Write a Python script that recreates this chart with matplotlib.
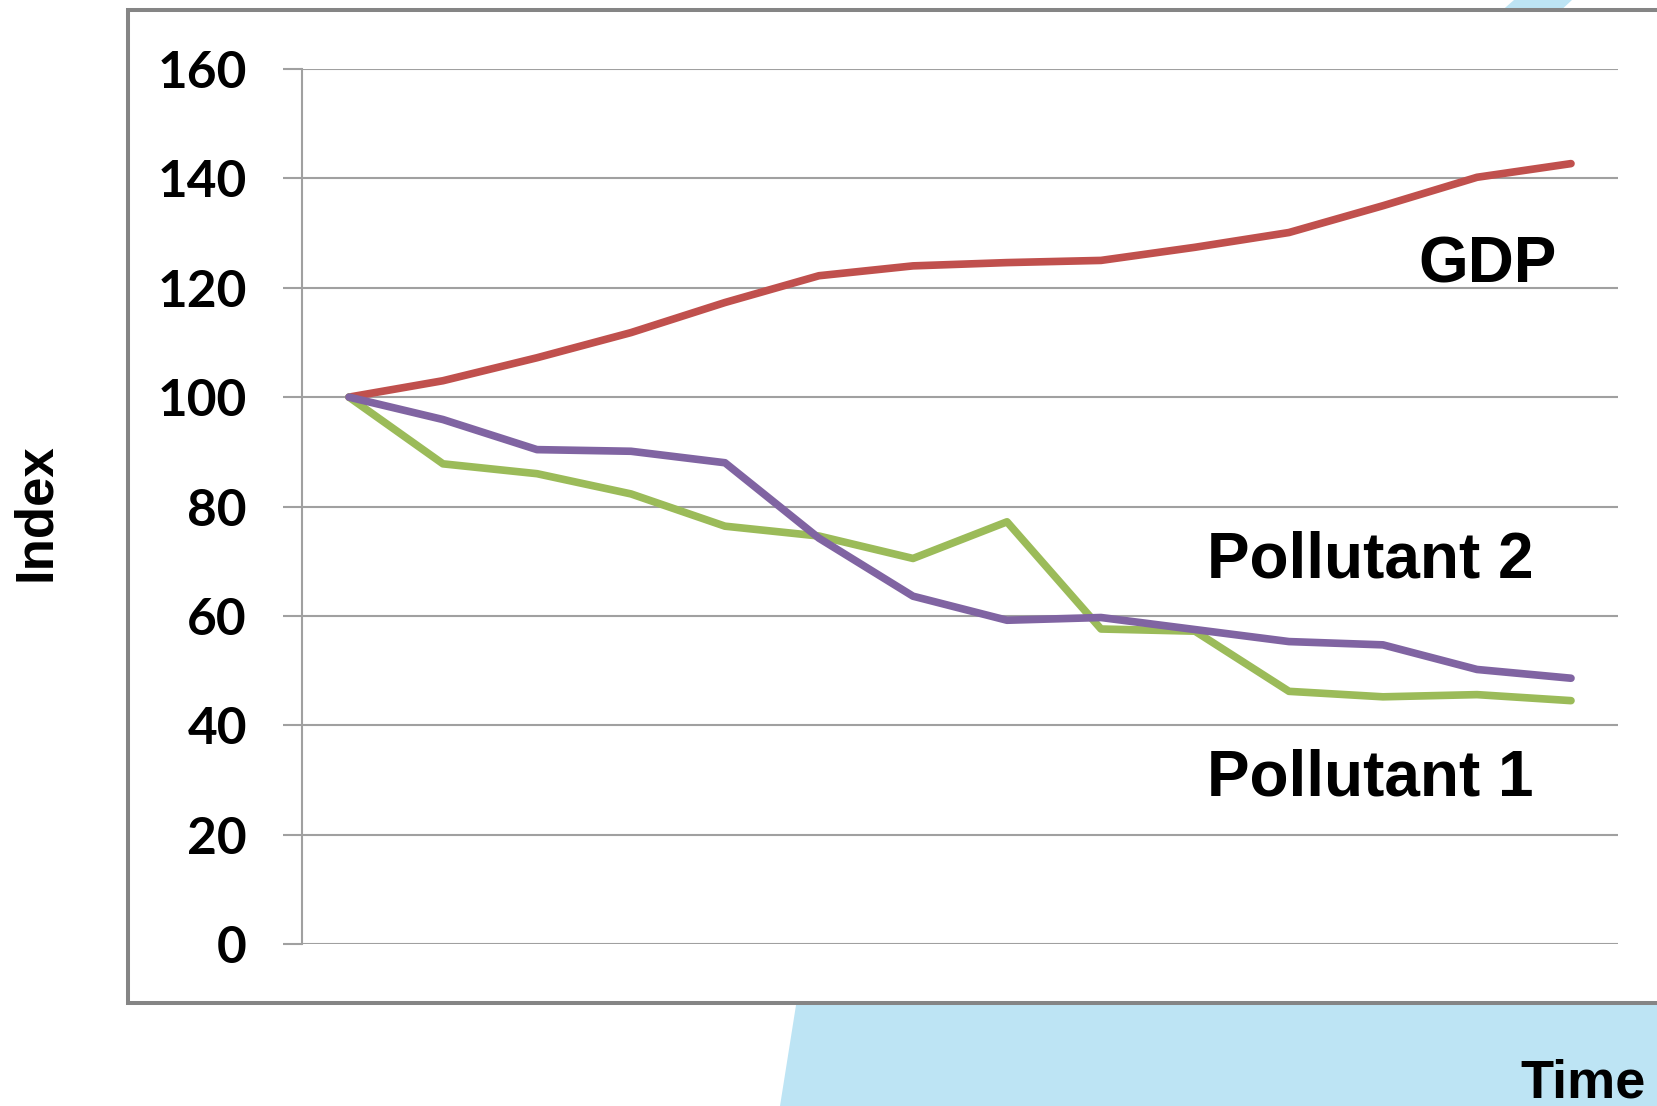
import matplotlib.pyplot as plt
from matplotlib.patches import Rectangle, Polygon

# Data (index, start = 100)

periods = list(range(1, 15))
gdp = [100, 103, 107.2, 111.8, 117.3, 122.2, 124, 124.6, 125, 127.4, 130.1, 135, 140.2, 142.7]
pollutant_2 = [100, 95.9, 90.4, 90.1, 88.0, 74.2, 63.6, 59.2, 59.7, 57.5, 55.3, 54.7, 50.2, 48.6]
pollutant_1 = [100, 87.8, 86.0, 82.3, 76.4, 74.6, 70.5, 77.2, 57.6, 57.2, 46.2, 45.2, 45.6, 44.5]
y_ticks = [0, 20, 40, 60, 80, 100, 120, 140, 160]

W, H = 1658, 1106

fig = plt.figure(figsize=(W / 100, H / 100), dpi=100)


def px(x, y):
    # pixel position (from top left) -> figure fraction
    return (x / W, 1 - y / H)


# Light blue background shape showing around the chart box

blue = '#bde4f4'
fig.patches.append(Polygon([px(800, 980), px(780, 1106), px(1658, 1106), px(1658, 980)],
                           closed=True, transform=fig.transFigure, facecolor=blue,
                           edgecolor='none', zorder=0))
fig.patches.append(Polygon([px(1514, 0), px(1572, 0), px(1557, 14), px(1498, 14)],
                           closed=True, transform=fig.transFigure, facecolor=blue,
                           edgecolor='none', zorder=0))

# White chart box with grey border

x0, y0 = px(128, 1003)
x1, y1 = px(1700, 10)
fig.patches.append(Rectangle((x0, y0), x1 - x0, y1 - y0, transform=fig.transFigure,
                             facecolor='white', edgecolor='#858585', linewidth=2.9, zorder=1))

# Plot area

left, top = px(302, 69)
right, bottom = px(1618, 944)
ax = fig.add_axes([left, bottom, right - left, top - bottom])
ax.set_facecolor('none')
ax.set_zorder(2)

grid_color = '#a0a0a0'
line_kw = dict(linewidth=5.5, solid_capstyle='round', solid_joinstyle='round')
ax.plot(periods, gdp, color='#c0504d', zorder=3, **line_kw)
ax.plot(periods, pollutant_1, color='#9bbb59', zorder=3, **line_kw)
ax.plot(periods, pollutant_2, color='#8064a2', zorder=4, **line_kw)

ax.set_xlim(0.5, 14.5)
ax.set_ylim(0, 160)
ax.set_yticks(y_ticks)
ax.set_yticklabels([str(t) for t in y_ticks], fontfamily='Lato', fontweight='bold', fontsize=37)
ax.set_xticks([])
ax.yaxis.grid(True, color=grid_color, linewidth=1.5)
ax.set_axisbelow(True)
ax.tick_params(axis='y', length=13.7, width=1.5, color=grid_color, pad=26)

for side in ['top', 'right', 'bottom']:
    ax.spines[side].set_visible(False)
ax.spines['left'].set_color(grid_color)
ax.spines['left'].set_linewidth(1.5)

# Labels

label_font = dict(family='Liberation Sans', weight='bold', color='black')
fig.text(*px(1418, 282), 'GDP', fontsize=46, ha='left', va='baseline', **label_font)
fig.text(*px(1207, 578), 'Pollutant 2', fontsize=46, ha='left', va='baseline', **label_font)
fig.text(*px(1207, 795), 'Pollutant 1', fontsize=46, ha='left', va='baseline', **label_font)
fig.text(*px(36, 512), 'Index', fontsize=38, rotation=90, ha='center', va='center', **label_font)
fig.text(*px(1646, 1097), 'Time', fontsize=39, ha='right', va='baseline', **label_font)

plt.savefig('out.png', dpi=100)
